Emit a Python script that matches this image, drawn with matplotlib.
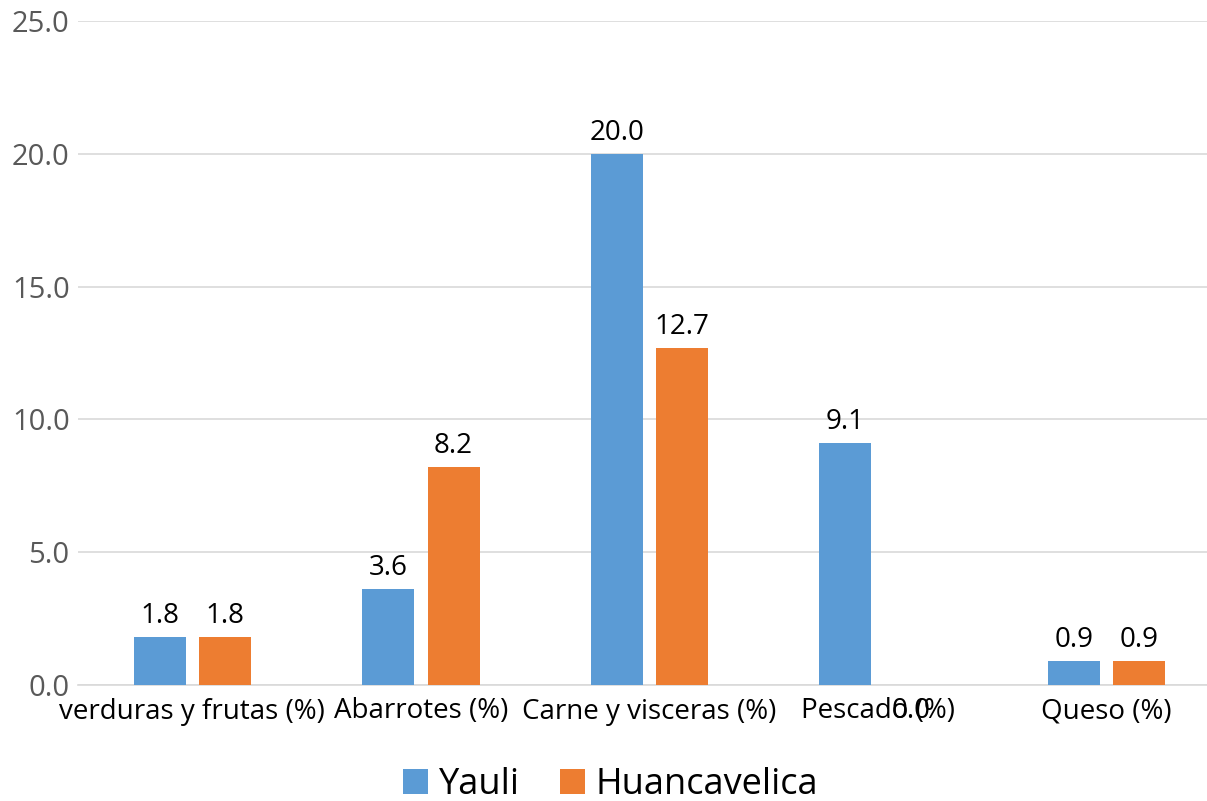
import matplotlib.pyplot as plt
import numpy as np

# values
categories = ['verduras y frutas (%)', 'Abarrotes (%)', 'Carne y visceras (%)',
              'Pescado (%)', 'Queso (%)']
yauli = [1.8, 3.6, 20.0, 9.1, 0.9]
huancavelica = [1.8, 8.2, 12.7, 0.0, 0.9]
series_names = ['Yauli', 'Huancavelica']

blue = '#5B9BD5'
orange = '#ED7D31'

plt.rcParams['font.family'] = ['Open Sans', 'DejaVu Sans']

fig = plt.figure(figsize=(12.07, 8.01), dpi=100)
# plot area runs a little past the right edge, as in the reference
ax = fig.add_axes([78 / 1207, 1 - 685 / 801, 1143 / 1207, (685 - 21) / 801])

x = np.arange(len(categories))
w = 0.228
off = 0.143
b1 = ax.bar(x - off, yauli, w, color=blue, label=series_names[0], zorder=3)
b2 = ax.bar(x + off, huancavelica, w, color=orange, label=series_names[1], zorder=3)

for bars, vals in [(b1, yauli), (b2, huancavelica)]:
    for rect, v in zip(bars, vals):
        # zero labels end up down on the category row in the original
        if v > 0:
            dy, va = 5, 'bottom'
        else:
            dy, va = -19, 'center'
        ax.annotate(f'{v:.1f}', (rect.get_x() + rect.get_width() / 2, v),
                    xytext=(0, dy), textcoords='offset points',
                    ha='center', va=va, fontsize=20, color='black')

ax.set_xlim(-0.5, len(categories) - 0.5)
ax.set_ylim(0, 25)
ax.set_yticks(np.arange(0, 26, 5))
ax.set_yticklabels([f'{t:.1f}' for t in np.arange(0, 26, 5)])
ax.set_xticks(x)
ax.set_xticklabels(categories)
ax.tick_params(axis='y', length=0, labelsize=21, labelcolor='#595959', pad=6)
ax.tick_params(axis='x', length=0, labelsize=20, labelcolor='black', pad=9)

ax.grid(axis='y', color='#D9D9D9', linewidth=1.2, zorder=0)
for s in ['top', 'right', 'left']:
    ax.spines[s].set_visible(False)
ax.spines['bottom'].set_color('#D9D9D9')
ax.spines['bottom'].set_linewidth(1.2)

fig.legend(handles=[b1, b2], labels=series_names, loc='center',
           bbox_to_anchor=(0.506, 1 - 785 / 801), ncol=2, frameon=False,
           fontsize=26, handlelength=0.7, handleheight=0.7, handletextpad=0.3,
           columnspacing=1.1, borderaxespad=0)

fig.savefig('out.png', dpi=100)
